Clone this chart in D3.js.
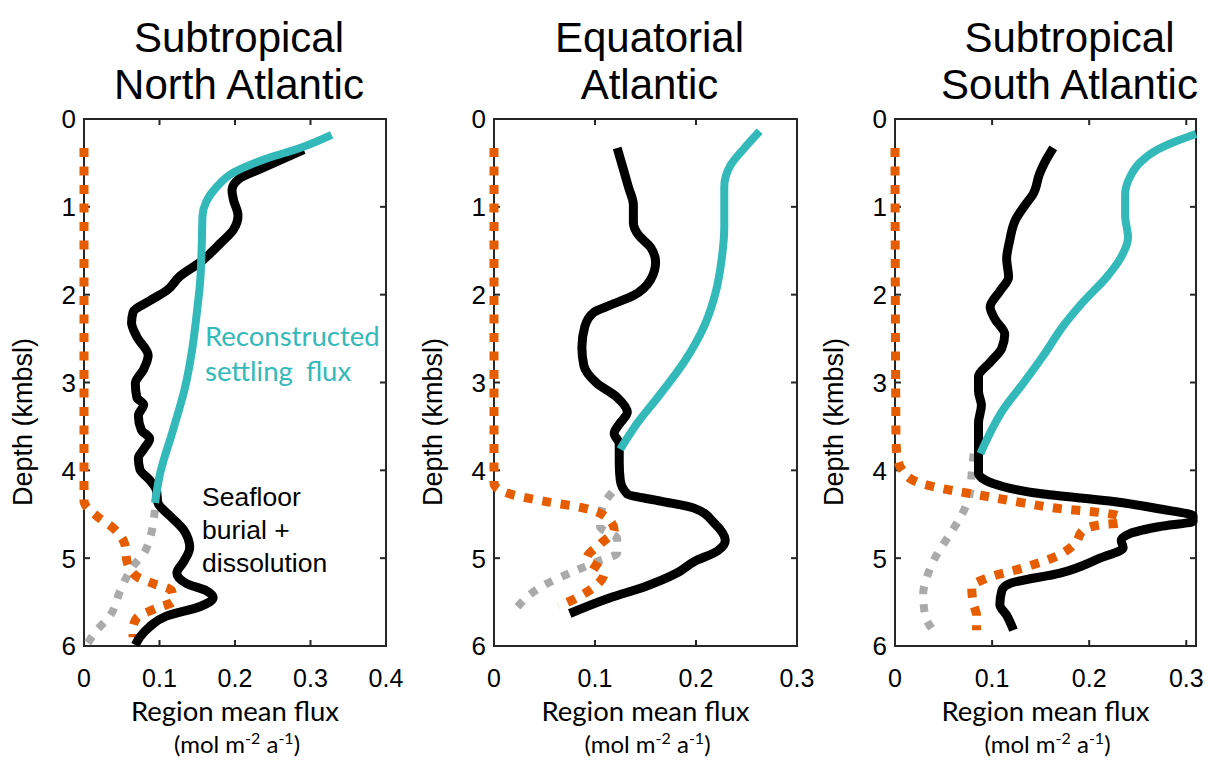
<!DOCTYPE html>
<html>
<head>
<meta charset="utf-8">
<script src="https://cdn.jsdelivr.net/npm/d3@7"></script>
<style>
  body { margin: 0; background: #fff; }
  text { font-family: "Liberation Sans", Arial, sans-serif; fill: #000; }
  .lato { font-family: Lato, "Liberation Sans", sans-serif; }
</style>
</head>
<body>
<svg id="chart" width="1209" height="760"></svg>
<script>

// ---- data: [depth (km), flux (mol m-2 a-1)] ----
let panelTitles = [["Subtropical", "North Atlantic"], ["Equatorial", "Atlantic"], ["Subtropical", "South Atlantic"]];
let fluxMax = [0.4, 0.3, 0.31];
let fluxTicks = [[0, 0.1, 0.2, 0.3, 0.4], [0, 0.1, 0.2, 0.3], [0, 0.1, 0.2, 0.3]];
let depthTicks = [0, 1, 2, 3, 4, 5, 6];

let naBurial = [[0.35,0.291],[0.57,0.233],[0.67,0.207],[0.81,0.196],[0.92,0.198],[1.10,0.204],[1.26,0.198],[1.42,0.180],[1.63,0.154],[1.79,0.127],[1.95,0.110],[2.07,0.087],[2.20,0.065],[2.32,0.063],[2.48,0.070],[2.69,0.085],[2.85,0.079],[3.01,0.068],[3.17,0.070],[3.25,0.079],[3.38,0.072],[3.54,0.076],[3.64,0.087],[3.76,0.079],[3.86,0.072],[3.99,0.074],[4.11,0.087],[4.23,0.096],[4.37,0.098],[4.52,0.114],[4.68,0.132],[4.88,0.140],[5.04,0.132],[5.17,0.123],[5.29,0.136],[5.37,0.162],[5.45,0.171],[5.55,0.154],[5.66,0.109],[5.78,0.087],[5.90,0.074],[5.99,0.068]];
let naSettling = [[0.18,0.328],[0.33,0.286],[0.45,0.242],[0.61,0.198],[0.77,0.176],[0.94,0.162],[1.10,0.157],[1.42,0.156],[1.83,0.154],[2.24,0.149],[2.64,0.143],[3.05,0.134],[3.54,0.118],[4.03,0.101],[4.37,0.094]];
let naOrange = [[0.33,0],[4.35,0],[4.52,0.017],[4.66,0.039],[4.84,0.054],[5.04,0.057],[5.21,0.070],[5.29,0.092],[5.37,0.116],[5.49,0.118],[5.57,0.096],[5.68,0.070],[5.80,0.065],[5.90,0.065]];
let naGray = [[4.45,0.094],[4.92,0.081],[5.09,0.065],[5.37,0.048],[5.66,0.034],[5.82,0.017],[5.98,0.004]];

let eqBurial = [[0.33,0.122],[0.57,0.128],[0.77,0.133],[0.98,0.138],[1.18,0.138],[1.32,0.143],[1.46,0.155],[1.63,0.160],[1.83,0.155],[2.01,0.138],[2.12,0.115],[2.20,0.099],[2.36,0.090],[2.60,0.087],[2.81,0.089],[3.01,0.102],[3.17,0.122],[3.34,0.132],[3.46,0.125],[3.58,0.119],[3.70,0.124],[3.91,0.124],[4.11,0.125],[4.27,0.132],[4.35,0.165],[4.43,0.198],[4.60,0.218],[4.80,0.229],[4.92,0.221],[5.04,0.198],[5.17,0.181],[5.33,0.148],[5.45,0.115],[5.63,0.075]];
let eqSettling = [[0.14,0.263],[0.33,0.248],[0.53,0.234],[0.77,0.228],[1.22,0.228],[1.63,0.225],[1.95,0.220],[2.36,0.208],[2.77,0.188],[3.17,0.162],[3.46,0.142],[3.76,0.125]];
let eqOrange = [[0.33,0],[4.15,0],[4.27,0.016],[4.35,0.049],[4.43,0.089],[4.54,0.112],[4.68,0.119],[4.84,0.105],[5.00,0.092],[5.17,0.109],[5.33,0.099],[5.45,0.082],[5.55,0.064]];
let eqGray = [[4.25,0.117],[4.43,0.107],[4.64,0.105],[4.78,0.122],[4.94,0.122],[5.04,0.102],[5.17,0.075],[5.31,0.049],[5.57,0.022]];

let saBurial = [[0.33,0.163],[0.50,0.154],[0.62,0.149],[0.86,0.142],[0.98,0.134],[1.15,0.124],[1.39,0.118],[1.59,0.115],[1.80,0.117],[1.96,0.108],[2.14,0.098],[2.28,0.103],[2.45,0.113],[2.61,0.110],[2.77,0.098],[2.93,0.086],[3.10,0.086],[3.26,0.089],[3.46,0.086],[3.70,0.086],[3.91,0.086],[4.03,0.086],[4.15,0.101],[4.27,0.153],[4.35,0.221],[4.44,0.273],[4.52,0.307],[4.58,0.307],[4.64,0.273],[4.72,0.242],[4.80,0.233],[4.88,0.235],[5.00,0.211],[5.17,0.170],[5.29,0.118],[5.37,0.110],[5.53,0.108],[5.65,0.115],[5.82,0.122]];
let saSettling = [[0.17,0.310],[0.25,0.290],[0.35,0.270],[0.50,0.252],[0.66,0.242],[0.86,0.237],[1.10,0.237],[1.35,0.240],[1.59,0.232],[1.80,0.218],[2.08,0.194],[2.36,0.173],[2.69,0.153],[3.01,0.132],[3.30,0.112],[3.81,0.088]];
let saOrange = [[0.33,0],[3.62,0.001],[3.83,0.002],[3.99,0.007],[4.13,0.022],[4.21,0.050],[4.29,0.091],[4.37,0.132],[4.44,0.173],[4.48,0.211],[4.52,0.230],[4.60,0.230],[4.62,0.211],[4.68,0.194],[4.84,0.185],[4.98,0.166],[5.11,0.132],[5.23,0.094],[5.33,0.079],[5.53,0.081],[5.65,0.084],[5.82,0.084]];
let saGray = [[3.81,0.081],[4.03,0.079],[4.27,0.077],[4.48,0.070],[4.72,0.057],[4.96,0.043],[5.21,0.033],[5.41,0.029],[5.65,0.031],[5.82,0.039]];

let panelSeries = [
    {burial: naBurial, settling: naSettling, orange: naOrange, gray: naGray},
    {burial: eqBurial, settling: eqSettling, orange: eqOrange, gray: eqGray},
    {burial: saBurial, settling: saSettling, orange: saOrange, gray: saGray}
];

// ---- layout ----
let panelLeft = [84, 494, 895];
let panelRight = [386, 797, 1196];
let plotTop = 119, plotBottom = 646;

let svg = d3.select("#chart");

panelSeries.forEach(function (s, i) {
    let x = d3.scaleLinear().domain([0, fluxMax[i]]).range([panelLeft[i], panelRight[i]]);
    let y = d3.scaleLinear().domain([0, 6]).range([plotTop, plotBottom]);
    let cx = (panelLeft[i] + panelRight[i]) / 2;
    let g = svg.append("g");

    // title
    g.append("text").attr("x", cx + (i === 2 ? 24 : 4)).attr("y", 52).attr("text-anchor", "middle")
        .style("font-size", "42px").text(panelTitles[i][0]);
    g.append("text").attr("x", cx + (i === 2 ? 24 : 4)).attr("y", 99).attr("text-anchor", "middle")
        .style("font-size", "42px").text(panelTitles[i][1]);

    // box and inward ticks
    g.append("rect").attr("x", panelLeft[i]).attr("y", plotTop)
        .attr("width", panelRight[i] - panelLeft[i]).attr("height", plotBottom - plotTop)
        .attr("fill", "none").attr("stroke", "#262626").attr("stroke-width", 2);

    let tickLen = 6;
    fluxTicks[i].forEach(function (t) {
        g.append("line").attr("x1", x(t)).attr("x2", x(t)).attr("y1", plotBottom).attr("y2", plotBottom - tickLen)
            .attr("stroke", "#262626").attr("stroke-width", 2);
        g.append("line").attr("x1", x(t)).attr("x2", x(t)).attr("y1", plotTop).attr("y2", plotTop + tickLen)
            .attr("stroke", "#262626").attr("stroke-width", 2);
        g.append("text").attr("x", x(t)).attr("y", 687).attr("text-anchor", "middle")
            .style("font-size", "25px").text(t === 0 ? "0" : d3.format(".1f")(t));
    });
    depthTicks.forEach(function (t) {
        g.append("line").attr("x1", panelLeft[i]).attr("x2", panelLeft[i] + tickLen).attr("y1", y(t)).attr("y2", y(t))
            .attr("stroke", "#262626").attr("stroke-width", 2);
        g.append("line").attr("x1", panelRight[i]).attr("x2", panelRight[i] - tickLen).attr("y1", y(t)).attr("y2", y(t))
            .attr("stroke", "#262626").attr("stroke-width", 2);
        g.append("text").attr("x", panelLeft[i] - 8).attr("y", y(t)).attr("dy", "0.36em")
            .attr("text-anchor", "end").style("font-size", "26px").text(t);
    });

    // profiles
    let line = d3.line().x(d => x(d[1])).y(d => y(d[0])).curve(d3.curveMonotoneY);

    g.append("path").attr("d", line(s.gray)).attr("fill", "none")
        .attr("stroke", "#aaaaaa").attr("stroke-width", 8).attr("stroke-dasharray", "8,10");
    g.append("path").attr("d", line(s.orange)).attr("fill", "none")
        .attr("stroke", "#e65c00").attr("stroke-width", 9).attr("stroke-dasharray", "9,9.5");
    g.append("path").attr("d", line(s.burial)).attr("fill", "none")
        .attr("stroke", "#000").attr("stroke-width", 9).attr("stroke-linejoin", "round");
    g.append("path").attr("d", line(s.settling)).attr("fill", "none")
        .attr("stroke", "#33b9b9").attr("stroke-width", 8);

    // axis labels
    g.append("text").attr("transform", `translate(${panelLeft[i] - 52},422) rotate(-90)`)
        .attr("text-anchor", "middle").style("font-size", "27px").text("Depth (kmbsl)");
    g.append("text").attr("class", "lato").attr("x", cx).attr("y", 721).attr("text-anchor", "middle")
        .style("font-size", "27.5px").text("Region mean flux");
    let unit = g.append("text").attr("class", "lato").attr("x", cx + 2).attr("y", 753)
        .attr("text-anchor", "middle").style("font-size", "24px");
    unit.append("tspan").text("(mol m");
    unit.append("tspan").attr("dy", -9).style("font-size", "16px").text("-2");
    unit.append("tspan").attr("dy", 9).text(" a");
    unit.append("tspan").attr("dy", -9).style("font-size", "16px").text("-1");
    unit.append("tspan").attr("dy", 9).text(")");
});

// annotations on first panel
svg.append("text").attr("class", "lato").attr("x", 205).attr("y", 346).style("font-size", "27.5px")
    .style("fill", "#33b9b9").text("Reconstructed");
svg.append("text").attr("class", "lato").attr("x", 205).attr("y", 381).style("font-size", "27.5px")
    .style("fill", "#33b9b9").style("word-spacing", "6px").text("settling flux");
svg.append("text").attr("x", 202).attr("y", 506).style("font-size", "26.5px").text("Seafloor");
svg.append("text").attr("x", 202).attr("y", 539).style("font-size", "26.5px").text("burial +");
svg.append("text").attr("x", 202).attr("y", 572).style("font-size", "26.5px").text("dissolution");

</script>
</body>
</html>
